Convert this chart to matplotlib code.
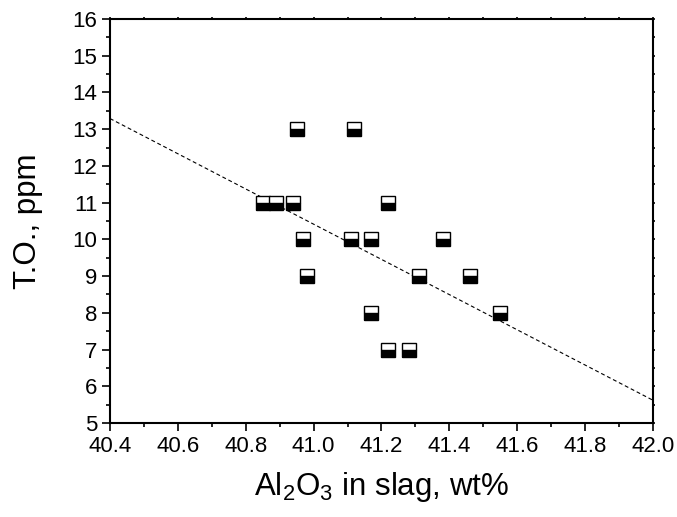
import matplotlib
matplotlib.use("Agg")
import matplotlib.pyplot as plt
from matplotlib.ticker import MultipleLocator

plt.rcParams['font.family'] = ['Liberation Sans', 'DejaVu Sans']
plt.rcParams['mathtext.fontset'] = 'custom'
plt.rcParams['mathtext.rm'] = 'Liberation Sans'
plt.rcParams['mathtext.it'] = 'Liberation Sans'

# data
al2o3 = [40.85, 40.89, 40.94, 40.95, 41.12, 40.97, 41.11, 41.17, 41.22,
         40.98, 41.31, 41.38, 41.46, 41.17, 41.55, 41.22, 41.28]
total_oxygen = [11, 11, 11, 13, 13, 10, 10, 10, 11,
                9, 9, 10, 9, 8, 8, 7, 7]
fit_x = [40.4, 42.0]
fit_y = [13.29, 5.62]

fig = plt.figure(figsize=(6.77, 5.17), dpi=100)
ax = fig.add_axes([0.1625, 0.1818, 0.802, 0.7814])

ax.plot(fit_x, fit_y, color='black', lw=0.8, linestyle=(0, (3.5, 2.5)), zorder=2)
ax.plot(al2o3, total_oxygen, linestyle='none', marker='s', markersize=10,
        fillstyle='bottom', markerfacecolor='black', markerfacecoloralt='white',
        markeredgecolor='black', markeredgewidth=1.0, zorder=3)

ax.set_xlim(40.4, 42.0)
ax.set_ylim(5, 16)
ax.xaxis.set_major_locator(MultipleLocator(0.2))
ax.xaxis.set_minor_locator(MultipleLocator(0.1))
ax.yaxis.set_major_locator(MultipleLocator(1))
ax.yaxis.set_minor_locator(MultipleLocator(0.5))
ax.xaxis.set_major_formatter(plt.FuncFormatter(lambda v, p: f"{v:.1f}"))

ax.tick_params(axis='both', which='major', direction='out', length=6, width=1.2,
               labelsize=16, pad=3)
ax.tick_params(axis='both', which='minor', direction='out', length=3, width=1.2)
ax.tick_params(top=True, right=True, which='both')
for t in ax.xaxis.get_major_ticks() + ax.xaxis.get_minor_ticks():
    t.tick2line.set_markersize(1.5)
for t in ax.yaxis.get_major_ticks() + ax.yaxis.get_minor_ticks():
    t.tick2line.set_markersize(1.5)

for s in ax.spines.values():
    s.set_linewidth(1.5)

ax.set_xlabel(r'Al$_2$O$_3$ in slag, wt%', fontsize=22.5, labelpad=10)
ax.set_ylabel('T.O., ppm', fontsize=22.5, labelpad=21)

fig.savefig('out.png', dpi=100)
